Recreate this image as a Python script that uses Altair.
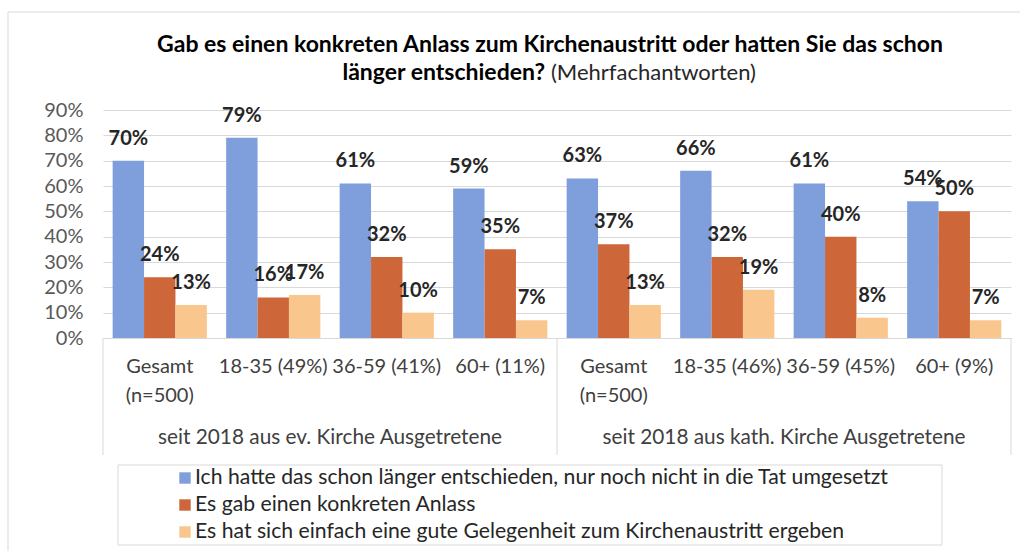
import altair as alt
import pandas as pd

# ---- data ----
keys = ["ev_ges", "ev_18", "ev_36", "ev_60", "ka_ges", "ka_18", "ka_36", "ka_60"]
cat_labels = ["Gesamt|(n=500)", "18-35 (49%)", "36-59 (41%)", "60+ (11%)",
              "Gesamt|(n=500)", "18-35 (46%)", "36-59 (45%)", "60+ (9%)"]
groups = ["seit 2018 aus ev. Kirche Ausgetretene", "seit 2018 aus kath. Kirche Ausgetretene"]
series = ["Ich hatte das schon länger entschieden, nur noch nicht in die Tat umgesetzt",
          "Es gab einen konkreten Anlass",
          "Es hat sich einfach eine gute Gelegenheit zum Kirchenaustritt ergeben"]
blue = [70, 79, 61, 59, 63, 66, 61, 54]
orange = [24, 16, 32, 35, 37, 32, 40, 50]
peach = [13, 17, 10, 7, 13, 19, 8, 7]
colors = ["#7f9fdc", "#cd6639", "#f9c68e"]
title1 = "Gab es einen konkreten Anlass zum Kirchenaustritt oder hatten Sie das schon"
title2a = "länger entschieden?"
title2b = "(Mehrfachantworten)"

W, H = 908, 228
FONT = "Lato"

rows = []
for s, vals in zip(series, [blue, orange, peach]):
    for k, v in zip(keys, vals):
        rows.append({"cat": k, "series": s, "value": v / 100})
df = pd.DataFrame(rows)
cat_df = pd.DataFrame({"cat": keys, "label": cat_labels})

xenc = alt.X("cat:N", sort=keys, axis=None,
             scale=alt.Scale(paddingInner=0.17, paddingOuter=0.085))
color = alt.Color("series:N", sort=series,
                  scale=alt.Scale(domain=series, range=colors), legend=None)

base = alt.Chart(df).encode(
    x=xenc,
    xOffset=alt.XOffset("series:N", sort=series),
    y=alt.Y("value:Q", scale=alt.Scale(domain=[0, 0.9], nice=False),
            axis=alt.Axis(values=[0, 0.1, 0.2, 0.3, 0.4, 0.5, 0.6, 0.7, 0.8, 0.9],
                          format=".0%", domain=False, ticks=False, title=None,
                          labelFont=FONT, labelFontSize=20, labelColor="#595959",
                          labelPadding=20, gridColor="#d9d9d9", gridWidth=1)),
)
bars = base.mark_bar().encode(color=color)
labels = base.mark_text(font=FONT, fontSize=20, fontWeight="bold", color="#262626",
                        baseline="middle", dy=-22).encode(
    text=alt.Text("value:Q", format=".0%"))

cat_text = alt.Chart(cat_df).transform_calculate(
    lines="split(datum.label, '|')"
).mark_text(font=FONT, fontSize=20, color="#404040", baseline="alphabetic",
            lineHeight=29).encode(
    x=xenc, y=alt.value(H + 35), text="lines:N")

grp_df = pd.DataFrame({"g": groups})
grp1 = alt.Chart(grp_df.iloc[[0]]).mark_text(font=FONT, fontSize=20.8, color="#404040",
                                              baseline="middle").encode(
    x=alt.value(W / 4), y=alt.value(H + 100), text="g:N")
grp2 = alt.Chart(grp_df.iloc[[1]]).mark_text(font=FONT, fontSize=20.8, color="#404040",
                                              baseline="middle").encode(
    x=alt.value(3 * W / 4), y=alt.value(H + 100), text="g:N")

one = pd.DataFrame({"a": [0]})
seps = [alt.Chart(one).mark_rule(color="#d9d9d9").encode(
    x=alt.value(xx), y=alt.value(H), y2=alt.value(H + 117)) for xx in [0, W / 2, W]]

frame = alt.Chart(one).mark_rect(fillOpacity=0, stroke="#d9d9d9", strokeWidth=1).encode(
    x=alt.value(-95), x2=alt.value(940), y=alt.value(-98), y2=alt.value(470))

t1 = alt.Chart(one).mark_text(font=FONT, fontSize=23, fontWeight="bold", color="#000000",
                              baseline="middle", align="center").encode(
    x=alt.value(447), y=alt.value(-65), text=alt.value(title1))
t2a = alt.Chart(one).mark_text(font=FONT, fontSize=23, fontWeight="bold", color="#000000",
                               baseline="middle", align="right").encode(
    x=alt.value(442), y=alt.value(-37), text=alt.value(title2a))
t2b = alt.Chart(one).mark_text(font=FONT, fontSize=22, color="#262626",
                               baseline="middle", align="left").encode(
    x=alt.value(448), y=alt.value(-37), text=alt.value(title2b))

# legend (custom box)
legbox = alt.Chart(one).mark_rect(fillOpacity=0, stroke="#d9d9d9", strokeWidth=1).encode(
    x=alt.value(15), x2=alt.value(839), y=alt.value(355), y2=alt.value(435))
leg_layers = []
for i, s in enumerate(series):
    d = pd.DataFrame({"series": [s]})
    yy = 368 + 27 * i
    leg_layers.append(alt.Chart(d).mark_square(size=130, opacity=1).encode(
        x=alt.value(82), y=alt.value(yy), color=color))
    leg_layers.append(alt.Chart(d).mark_text(font=FONT, fontSize=21.2, color="#262626",
                                             align="left", baseline="middle").encode(
        x=alt.value(92), y=alt.value(yy), text="series:N"))

chart = alt.layer(frame, bars, labels, cat_text, grp1, grp2, *seps, t1, t2a, t2b,
                  legbox, *leg_layers).properties(
    width=W, height=H,
    autosize=alt.AutoSizeParams(type="none"),
    padding={"left": 103, "top": 110, "right": 9, "bottom": 213},
    background="white",
).configure_view(stroke=None)

chart.save("out.html", embed_options={"renderer": "svg", "actions": False})
